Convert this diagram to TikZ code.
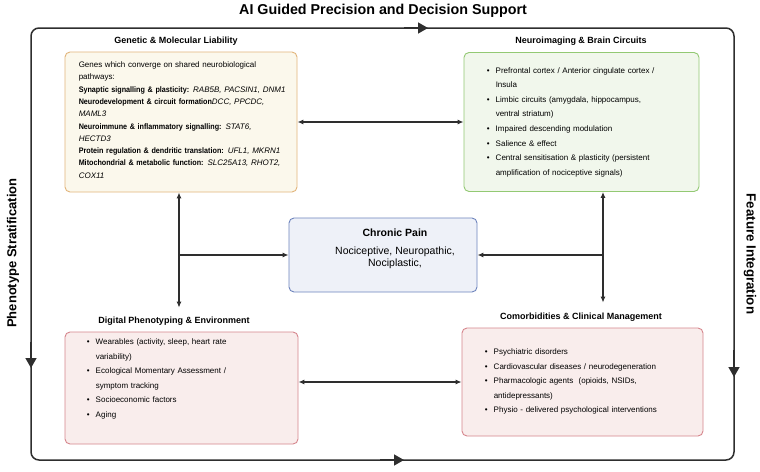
\documentclass[tikz,border=0pt]{standalone}
\usepackage{fontspec}
\setmainfont{Liberation Sans}
\newfontfamily\genefont{Liberation Sans}[BoldFeatures={FakeStretch=0.9}]
\usetikzlibrary{positioning,arrows.meta}

\definecolor{genefill}{HTML}{FBF8EC}
\definecolor{genedraw}{HTML}{E2B57B}
\definecolor{neurofill}{HTML}{F1F7EC}
\definecolor{neurodraw}{HTML}{93C973}
\definecolor{rosefill}{HTML}{F9EDEC}
\definecolor{rosedraw}{HTML}{D6868D}
\definecolor{painfill}{HTML}{EEF1F8}
\definecolor{paindraw}{HTML}{6E84BD}
\definecolor{linegray}{HTML}{2E2E2E}

% bullet and the indent of a wrapped bullet line
\newcommand{\bul}{\makebox[9pt][l]{\textbullet}}
\newcommand{\contline}{\hspace*{9pt}}

\begin{document}
\begin{tikzpicture}[
    x=1pt, y=-1pt,
    panel/.style={draw, rounded corners=5pt, line width=0.9pt, inner sep=0pt},
    genebox/.style={panel, fill=genefill, draw=genedraw},
    neurobox/.style={panel, fill=neurofill, draw=neurodraw},
    rosebox/.style={panel, fill=rosefill, draw=rosedraw},
    painbox/.style={panel, fill=painfill, draw=paindraw},
    head/.style={font=\fontsize{9}{11}\selectfont\bfseries, inner sep=2pt},
    listtext/.style={inner sep=0pt, text width=230pt, align=left, font=\fontsize{8}{14.6}\selectfont},
    link/.style={draw=linegray, line width=1.1pt, -{Latex[length=6pt,width=5pt]}},
    twoway/.style={link, {Latex[length=6pt,width=5pt]}-{Latex[length=6pt,width=5pt]}},
    frame/.style={draw=linegray, line width=1.5pt, rounded corners=8pt},
    tip/.style={draw=linegray, line width=1.5pt, -{Triangle[length=10pt,width=11pt]}}
]
\fill[white] (0,0) rectangle (760,471);
\useasboundingbox (0,0) rectangle (760,471);

% ====================
%    Outer loop
% ====================
\coordinate (tl) at (31,28);
\coordinate (tr) at (734,28);
\coordinate (br) at (734,460);
\coordinate (bl) at (31,460);
\draw[frame] (tl) -- (tr) -- (br) -- (bl) -- cycle;

% direction marks on the loop
\draw[tip] (404,28) -- (428,28);
\draw[tip] (734,350) -- (734,377);
\draw[tip] (380,460) -- (404,460);
\draw[tip] (31,342) -- (31,368);

% Loop labels
\node[font=\fontsize{14.3}{16}\selectfont\bfseries] (title) at (383,11) {AI Guided Precision and Decision Support};
\node[font=\fontsize{13}{15}\selectfont\bfseries, rotate=90] (pheno) at (13,253) {Phenotype Stratification};
\node[font=\fontsize{13.3}{15}\selectfont\bfseries, rotate=-90] (feat) at (750,254) {Feature Integration};

% ====================
%    Panels
% ====================

% Genetic & molecular
\node[head] (genehead) at (176,41) {Genetic \& Molecular Liability};
\node[genebox, minimum width=232pt, minimum height=140pt] (gene) at (181,122) {};
\node[listtext, font=\genefont\fontsize{8}{12.3}\selectfont, below right=10pt and 14pt of gene.north west] (genetxt) {%
Genes which converge on shared neurobiological\\ pathways:\\
\textbf{Synaptic signalling \& plasticity:} \textit{RAB5B, PACSIN1, DNM1}\\
\textbf{Neurodevelopment \& circuit formation}\textit{DCC, PPCDC,}\\ \textit{MAML3}\\
\textbf{Neuroimmune \& inflammatory signalling:} \textit{STAT6,}\\ \textit{HECTD3}\\
\textbf{Protein regulation \& dendritic translation:} \textit{UFL1, MKRN1}\\
\textbf{Mitochondrial \& metabolic function:} \textit{SLC25A13, RHOT2,}\\ \textit{COX11}};

% Neuroimaging
\node[head] (neurohead) at (581,41) {Neuroimaging \& Brain Circuits};
\node[neurobox, minimum width=235pt, minimum height=139pt] (neuro) at (581.5,122) {};
\node[listtext, below right=15pt and 23pt of neuro.north west] (neurotxt) {%
\bul Prefrontal cortex / Anterior cingulate cortex /\\ \contline Insula\\
\bul Limbic circuits (amygdala, hippocampus,\\ \contline ventral striatum)\\
\bul Impaired descending modulation\\
\bul Salience \& effect\\
\bul Central sensitisation \& plasticity (persistent\\ \contline amplification of nociceptive signals)};

% Digital phenotyping
\node[head] (digihead) at (174,321) {Digital Phenotyping \& Environment};
\node[rosebox, minimum width=233pt, minimum height=112pt] (digi) at (181.5,388) {};
\node[listtext, below right=7pt and 22pt of digi.north west] (digitxt) {%
\bul Wearables (activity, sleep, heart rate\\ \contline variability)\\
\bul Ecological Momentary Assessment /\\ \contline symptom tracking\\
\bul Socioeconomic factors\\
\bul Aging};

% Comorbidities
\node[head] (comohead) at (581,317) {Comorbidities \& Clinical Management};
\node[rosebox, minimum width=241pt, minimum height=108pt] (como) at (582.5,382) {};
\node[listtext, below right=21pt and 23pt of como.north west] (comotxt) {%
\bul Psychiatric disorders\\
\bul Cardiovascular diseases / neurodegeneration\\
\bul Pharmacologic agents\ \ (opioids, NSIDs,\\ \contline antidepressants)\\
\bul Physio - delivered psychological interventions};

% Chronic pain
\node[painbox, minimum width=188pt, minimum height=74pt] (pain) at (383,255) {};
\node[font=\fontsize{10.5}{12.5}\selectfont, align=center] (paintxt) at (395,249) {\textbf{Chronic Pain}\\[5pt]Nociceptive, Neuropathic,\\Nociplastic,};

% ====================
%    Connections
% ====================
\coordinate (lj) at (179,255);
\coordinate (rj) at (603,255);
\draw[twoway] (gene) -- (neuro);
\draw[twoway] (digi.east |- como.west) -- (como.west);
\draw[twoway, shorten >=7pt] (gene.south -| lj) -- (digihead.north -| lj);
\draw[twoway, shorten >=8pt] (neuro.south -| rj) -- (comohead.north -| rj);
\draw[link] (lj) -- (pain.west);
\draw[link] (rj) -- (pain.east);

\end{tikzpicture}
\end{document}
